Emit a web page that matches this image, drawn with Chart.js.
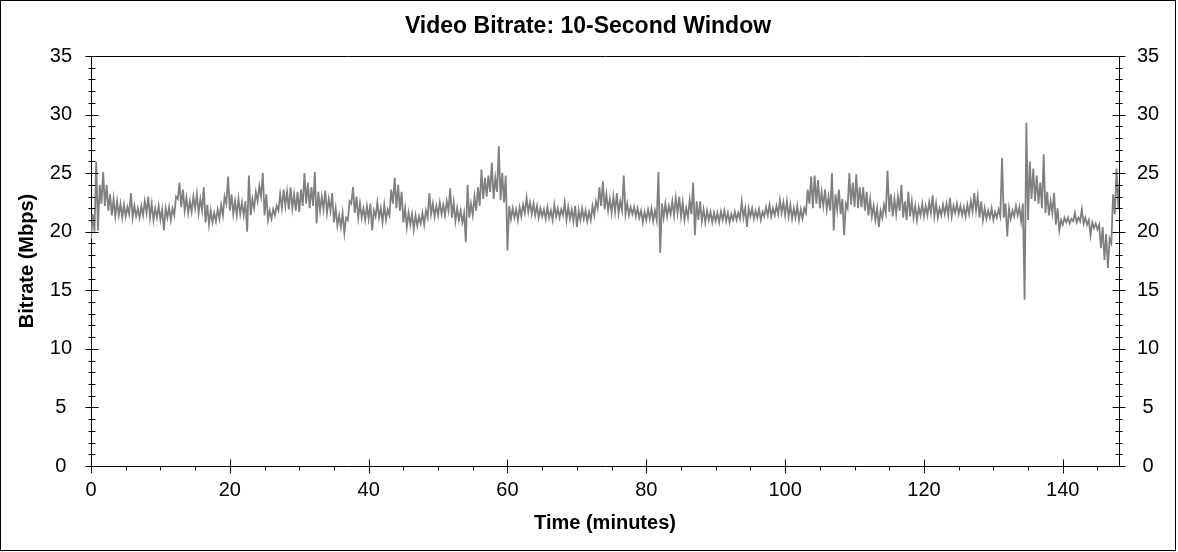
<!DOCTYPE html>
<html><head><meta charset="utf-8">
<script src="https://cdn.jsdelivr.net/npm/chart.js@4.4.1/dist/chart.umd.min.js"></script>
<style>html,body{margin:0;padding:0;background:#fff;}#wrap{width:1178px;height:552px;position:relative;}</style>
</head><body><div id="wrap"><canvas id="c" width="1178" height="552"></canvas></div>
<script>
const chartTitle = 'Video Bitrate: 10-Second Window';
const xTitle = 'Time (minutes)';
const yTitle = 'Bitrate (Mbps)';
const sampleStep = 0.5;          // minutes between samples
const xMax = 148.1;              // minutes
const yMax = 35;                 // Mbps
const xMajorStep = 20, xMinorStep = 5;
const yMajorStep = 5, yMinorStep = 1;

// lower and upper envelope of the 10-second bitrate, one pair per half minute (Mbps)
const lo = [
  19.4,20.0,20.1,22.4,22.2,21.8,21.4,21.3,21.4,21.2,21.3,21.5,21.2,21.3,21.2,21.4,21.6,21.2,21.0,21.2,
  21.0,20.1,21.2,21.0,21.4,22.8,22.1,21.8,21.6,21.7,22.0,21.6,21.8,20.8,20.6,20.8,20.9,21.1,21.4,22.4,
  21.8,21.5,21.4,21.5,21.4,20.0,21.4,22.0,22.6,23.0,21.4,21.0,21.1,21.4,21.8,22.0,22.2,21.9,22.0,21.8,
  21.7,22.2,22.4,22.0,22.2,20.7,21.8,21.9,21.6,21.8,20.8,20.5,20.4,19.9,21.0,22.4,21.6,21.2,21.2,21.0,
  21.1,20.1,21.3,21.2,20.8,21.0,21.4,22.4,22.0,21.8,20.8,20.4,20.6,20.2,20.5,20.7,20.6,21.2,21.5,21.3,
  21.4,21.5,21.4,21.8,21.2,20.9,21.0,20.8,19.1,21.2,21.4,21.8,22.2,22.8,23.0,23.4,22.8,23.4,22.7,22.5,
  18.4,21.1,21.2,21.0,21.3,21.6,21.7,21.5,21.4,21.2,21.3,21.1,21.2,21.0,21.3,21.2,21.4,21.0,21.1,20.9,
  20.4,21.0,21.1,20.9,21.0,21.4,22.0,22.2,21.9,21.8,21.6,21.7,21.6,21.8,21.5,21.4,21.5,21.3,21.2,20.8,
  21.0,21.1,20.9,21.0,18.2,21.2,21.3,21.5,21.4,21.6,21.3,21.0,21.2,21.5,19.7,21.0,20.9,20.8,21.0,20.8,
  20.9,20.8,21.0,20.9,20.8,21.0,21.0,21.1,21.2,20.4,21.3,21.1,21.2,21.0,21.3,21.4,21.3,21.4,21.5,21.6,
  21.4,21.3,21.1,21.2,21.0,21.1,21.6,22.4,22.0,22.4,22.0,22.2,21.9,21.8,20.1,21.9,21.5,19.7,22.0,22.3,
  22.1,22.0,22.1,21.8,21.4,21.3,21.0,20.4,21.2,21.6,21.7,21.3,21.5,21.8,21.2,21.0,21.3,21.2,21.0,21.4,
  21.3,21.4,21.6,21.3,21.2,21.4,21.5,21.4,21.3,21.6,21.5,21.4,21.3,21.5,21.7,21.8,21.2,21.0,21.1,21.2,
  21.0,21.2,21.3,21.2,19.6,21.1,21.3,21.4,20.9,14.2,21.0,22.8,22.6,22.4,22.0,21.6,21.4,21.6,20.6,20.1,
  20.6,20.8,20.7,20.9,20.8,20.9,20.7,20.6,19.7,20.3,20.2,18.6,17.6,16.9,19.0,21.5,22.0
];
const hi = [
  21.5,26.0,24.0,25.1,24.0,23.2,22.8,22.6,22.4,22.3,22.1,23.3,22.2,22.0,22.2,22.6,23.0,22.4,22.0,22.2,
  21.9,22.0,22.1,22.0,23.0,24.2,23.6,22.9,22.6,23.0,23.2,22.8,23.8,22.3,21.8,21.6,21.9,22.3,23.0,24.7,
  23.2,22.6,22.8,22.5,22.6,24.8,22.8,23.4,23.9,25.0,23.2,21.8,21.9,22.2,23.2,23.6,23.4,23.8,23.2,23.4,
  23.6,25.0,24.2,23.8,25.1,23.4,23.0,23.5,22.8,23.3,22.0,21.4,21.6,21.2,22.6,23.8,23.0,22.4,22.0,22.2,
  22.4,21.8,22.5,22.0,22.3,21.9,23.6,24.6,24.0,23.4,22.0,21.6,21.5,21.4,21.3,21.6,21.8,23.3,22.4,22.2,
  22.5,22.3,22.6,23.7,22.5,22.0,21.8,21.6,24.0,22.4,23.0,23.8,25.3,24.6,24.8,25.9,24.6,27.3,25.0,24.8,
  22.2,22.0,21.9,22.1,22.3,22.9,22.5,22.4,22.2,22.0,21.9,22.1,21.8,22.3,22.0,21.9,22.5,22.1,21.9,22.2,
  21.8,22.0,21.8,21.7,22.2,22.6,23.8,24.3,23.2,22.8,23.0,23.3,22.6,24.8,22.4,22.1,22.1,22.0,21.8,21.7,
  21.9,22.0,21.8,25.1,22.4,22.4,22.2,22.6,22.9,23.0,22.5,22.0,22.7,24.2,22.6,22.6,21.9,21.8,21.7,21.6,
  21.6,21.7,21.8,21.6,21.5,21.7,21.6,22.6,22.0,22.0,22.0,21.8,21.9,21.7,22.1,22.3,22.0,22.2,22.7,22.5,
  22.6,22.3,22.0,22.2,21.9,22.0,23.6,24.7,24.8,24.4,23.4,23.6,23.0,25.0,23.2,23.6,22.8,22.4,25.0,24.2,
  24.9,23.8,23.8,23.4,22.8,22.2,22.0,21.8,22.3,25.2,23.2,22.8,23.0,24.0,22.6,23.4,22.6,22.2,22.1,22.4,
  22.2,22.5,23.1,22.4,22.0,22.3,22.4,22.9,22.2,22.4,22.2,22.1,22.3,22.6,23.3,23.0,22.6,22.0,21.8,22.0,
  21.7,21.9,26.3,22.4,22.0,21.8,22.2,22.1,22.4,29.3,26.0,25.4,24.8,24.2,26.6,23.4,22.6,23.3,22.0,21.0,
  21.2,21.2,21.1,21.6,21.2,21.9,21.2,21.0,20.8,20.7,20.6,20.4,19.8,19.4,23.2,25.4,24.8
];

const points = [];
for (let i = 0; i < lo.length; i++) {
  points.push({x: i * sampleStep, y: lo[i]});
  points.push({x: i * sampleStep + sampleStep / 2, y: hi[i]});
}

const FONT = '"Liberation Sans", Arial, sans-serif';

const decor = {
  id: 'decor',
  afterDraw(chart) {
    const ctx = chart.ctx, a = chart.chartArea;
    const xs = chart.scales.x, yl = chart.scales.y;
    ctx.save();
    ctx.strokeStyle = '#000';
    ctx.lineWidth = 1;
    ctx.strokeRect(0.5, 0.5, 1175, 550);
    ctx.beginPath();
    const top = Math.round(a.top) + 0.5, bot = Math.round(a.bottom) + 0.5;
    const L = Math.round(a.left) + 0.5, R = Math.round(a.right) + 0.5;
    ctx.moveTo(L, top); ctx.lineTo(R, top);
    for (let v = 0; v <= xMax + 1e-9; v += xMinorStep) {
      const px = Math.round(xs.getPixelForValue(v)) + 0.5;
      const major = v % xMajorStep === 0;
      ctx.moveTo(px, major ? bot - 7 : bot);
      ctx.lineTo(px, bot + (major ? 7 : 4));
    }
    for (let v = 0; v <= yMax; v += yMinorStep) {
      const py = Math.round(yl.getPixelForValue(v)) + 0.5;
      const major = v % yMajorStep === 0;
      const w1 = major ? 6 : 3, w2 = major ? 7 : 4;
      ctx.moveTo(L - w1, py); ctx.lineTo(L + w2, py);
      ctx.moveTo(R - w2, py); ctx.lineTo(R + w1, py);
    }
    ctx.stroke();
    ctx.fillStyle = '#000';
    ctx.font = 'bold 23px ' + FONT;
    ctx.textAlign = 'center';
    ctx.textBaseline = 'middle';
    ctx.fillText(chartTitle, 588, 27);
    ctx.restore();
  }
};

const tickFont = {family: FONT, size: 20};
const titleFont = {family: FONT, size: 20, weight: 'bold'};

new Chart(document.getElementById('c'), {
  type: 'line',
  data: {datasets: [{
    data: points,
    borderColor: '#808080',
    borderWidth: 1.8,
    pointRadius: 0,
    tension: 0,
    fill: false
  }]},
  options: {
    responsive: false,
    devicePixelRatio: 1,
    animation: false,
    parsing: false,
    normalized: true,
    layout: {padding: {top: 56, left: 0, right: 0, bottom: 0}},
    plugins: {legend: {display: false}, tooltip: {enabled: false}, title: {display: false}},
    scales: {
      x: {
        type: 'linear', position: 'bottom', min: 0, max: xMax,
        afterFit: s => { s.height = 86; },
        grid: {display: true, drawOnChartArea: false, drawTicks: false},
        border: {display: true, color: '#000', width: 1},
        ticks: {stepSize: xMajorStep, includeBounds: false, autoSkip: false, maxRotation: 0, padding: 12, color: '#000', font: tickFont},
        title: {display: true, text: xTitle, color: '#000', font: titleFont, padding: {top: 0, bottom: 17}}
      },
      y: {
        type: 'linear', position: 'left', min: 0, max: yMax,
        afterFit: s => { s.width = 91; },
        grid: {display: true, drawOnChartArea: false, drawTicks: false},
        border: {display: true, color: '#000', width: 1},
        ticks: {stepSize: yMajorStep, autoSkip: false, crossAlign: 'center', padding: 19, color: '#000', font: tickFont},
        title: {display: true, text: yTitle, color: '#000', font: titleFont, padding: {top: 15, bottom: 0}}
      },
      y2: {
        type: 'linear', position: 'right', min: 0, max: yMax,
        afterFit: s => { s.width = 59; },
        grid: {display: true, drawOnChartArea: false, drawTicks: false},
        border: {display: true, color: '#000', width: 1},
        ticks: {stepSize: yMajorStep, autoSkip: false, crossAlign: 'center', padding: 18, color: '#000', font: tickFont}
      }
    }
  },
  plugins: [decor]
});
</script>
</body></html>
